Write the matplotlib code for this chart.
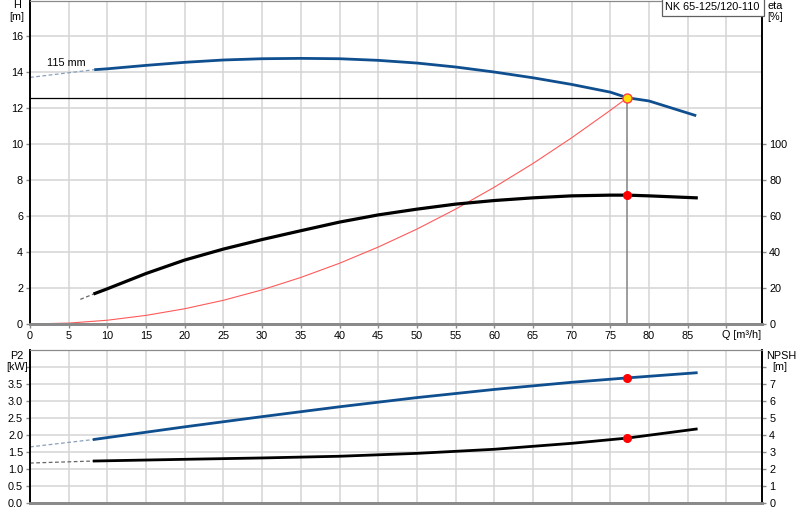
import numpy as np
import matplotlib.pyplot as plt

plt.rcParams['font.family'] = ['Liberation Sans', 'DejaVu Sans']
plt.rcParams['font.size'] = 7.8

# pump curve H(Q)
q_h = [8.3, 10, 15, 20, 25, 30, 35, 40, 45, 50, 55, 60, 65, 70, 75, 77.2, 80, 86.1]
h = [14.15, 14.2, 14.39, 14.56, 14.69, 14.76, 14.78, 14.76, 14.67, 14.52,
     14.3, 14.02, 13.7, 13.33, 12.9, 12.59, 12.41, 11.59]
q_h_ext = [0, 8.3]
h_ext = [13.72, 14.15]

# efficiency
q_eta = [8.4, 10, 15, 20, 25, 30, 35, 40, 45, 50, 55, 60, 65, 70, 75, 77.2, 80, 86.1]
eta = [17.0, 19.6, 28.1, 35.6, 41.7, 47.0, 51.9, 56.7, 60.7, 63.9,
       66.7, 68.7, 70.2, 71.3, 71.7, 71.7, 71.3, 70.2]
q_eta_ext = [6.5, 8.4]
eta_ext = [13.7, 17.0]

# system curve
q_sys = [0, 5, 10, 15, 20, 25, 30, 35, 40, 45, 50, 55, 60, 65, 70, 75, 77.2]
h_sys = [0, 0.05, 0.21, 0.48, 0.85, 1.32, 1.9, 2.59, 3.38, 4.28, 5.28,
         6.39, 7.61, 8.93, 10.36, 11.89, 12.59]

# power and NPSH
q_low = [8.3, 20, 30, 40, 50, 60, 70, 77.2, 86.1]
p2 = [1.87, 2.24, 2.54, 2.83, 3.10, 3.34, 3.55, 3.68, 3.83]
npsh = [2.47, 2.57, 2.65, 2.75, 2.92, 3.16, 3.51, 3.82, 4.35]
q_low_ext = [0, 8.3]
p2_ext = [1.65, 1.87]
npsh_ext = [2.35, 2.47]

# duty point
q_op, h_op, eta_op, p2_op, npsh_op = 77.2, 12.59, 71.7, 3.68, 3.82

W, H = 800, 520
blue = '#0f4f8f'
grid_c = '#d4d4d4'
gray_sp = '#8a8a8a'

fig = plt.figure(figsize=(8, 5.2), dpi=100)

def px_axes(left, top, right, bottom):
    return fig.add_axes([left / W, 1 - bottom / H, (right - left) / W, (bottom - top) / H])

def style(ax, twin):
    for a in (ax, twin):
        a.spines['top'].set_color(gray_sp)
        a.spines['bottom'].set_color(gray_sp)
        a.spines['bottom'].set_linewidth(2)
        a.spines['left'].set_color('black')
        a.spines['right'].set_color('black')
        a.spines['left'].set_linewidth(1.2)
        a.spines['right'].set_linewidth(1.2)
        a.tick_params(length=3, width=1, color=gray_sp, pad=2, labelsize=7.8)
    ax.grid(True, color=grid_c, linewidth=1.1)
    ax.set_axisbelow(True)

xmax = 94.64

# ---- top chart
ax1 = px_axes(30, 0.5, 762.3, 324)
ax1t = ax1.twinx()
ax1.set_xlim(0, xmax)
ax1.set_ylim(0, 18)
ax1t.set_ylim(0, 180)
ax1.set_xticks(np.arange(0, 91, 5))
ax1.set_xticklabels([str(v) for v in range(0, 90, 5)] + [''])
ax1.set_yticks(np.arange(0, 17, 2))
ax1t.set_yticks(np.arange(0, 101, 20))
style(ax1, ax1t)

ax1.plot(q_h_ext, h_ext, color='#8aa0bb', lw=0.9, ls=(0, (3, 2)))
ax1.plot(q_h, h, color=blue, lw=2.0, solid_capstyle='butt')
ax1.plot(q_sys, h_sys, color='#ff5a5a', lw=0.8)
ax1.plot([0, q_op], [h_op, h_op], color='black', lw=0.9)
ax1.plot([q_op, q_op], [0, h_op], color='#8c8c8c', lw=1.2)
ax1t.plot(q_eta_ext, eta_ext, color='#666666', lw=0.9, ls=(0, (3, 2)))
ax1t.plot(q_eta, eta, color='black', lw=2.3)
ax1t.plot([q_op], [eta_op], 'o', color='red', ms=5.5, mec='red')
ax1t.plot([q_op], [h_op * 10], 'o', color='#ffe000', ms=6.5, mec='#ff4040', mew=1)
ax1.text(2.2, 14.55, '115 mm', ha='left', va='center')
ax1.text(89.4, -0.62, 'Q [m³/h]', ha='left', va='center')
ax1t.text(0.9965, 0.995, 'NK 65-125/120-110', transform=ax1t.transAxes,
          ha='right', va='top',
          bbox=dict(boxstyle='square,pad=0.35', fc='white', ec='#606060', lw=0.9))

# ---- bottom chart
ax2 = px_axes(30, 350, 762.3, 503)
ax2t = ax2.twinx()
ax2.set_xlim(0, xmax)
ax2.set_ylim(0, 4.5)
ax2t.set_ylim(0, 9)
ax2.set_xticks(np.arange(0, 91, 5))
ax2.set_xticklabels([])
ax2.set_yticks(np.arange(0, 4.01, 0.5))
ax2.set_yticklabels(['%.1f' % v for v in np.arange(0, 3.51, 0.5)] + [''])
ax2t.set_yticks(np.arange(0, 9, 1))
ax2t.set_yticklabels([str(v) for v in range(0, 8)] + [''])
style(ax2, ax2t)
ax2.tick_params(axis='x', length=0)
ax2t.tick_params(axis='x', length=0)

ax2.plot(q_low_ext, p2_ext, color='#8aa0bb', lw=0.9, ls=(0, (3, 2)))
ax2.plot(q_low, p2, color=blue, lw=2.0)
ax2.plot([q_op], [p2_op], 'o', color='red', ms=5.5)
ax2t.plot(q_low_ext, npsh_ext, color='#666666', lw=0.9, ls=(0, (3, 2)))
ax2t.plot(q_low, npsh, color='black', lw=2.0)
ax2t.plot([q_op], [npsh_op], 'o', color='red', ms=5.5)

# axis captions
def ftext(x, y, s):
    fig.text(x / W, 1 - y / H, s, ha='center', va='center')

ftext(17, 5, 'H')
ftext(17, 17, '[m]')
ftext(775, 6, 'eta')
ftext(775, 17, '[%]')
ftext(17, 356, 'P2')
ftext(17, 367, '[kW]')
ftext(781, 356, 'NPSH')
ftext(780, 367, '[m]')

fig.savefig('out.png', dpi=100)
